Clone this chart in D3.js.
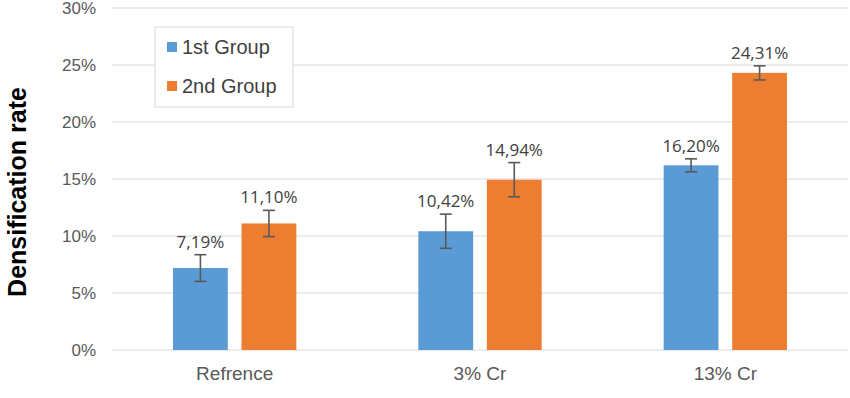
<!DOCTYPE html>
<html>
<head>
<meta charset="utf-8">
<script src="https://d3js.org/d3.v7.min.js"></script>
<style>
  body { margin: 0; background: #fff; }
  svg { display: block; }
</style>
</head>
<body>
<svg id="chart" width="850" height="398"></svg>
<script>
var categories = ['Refrence', '3% Cr', '13% Cr'];
var groups = ['1st Group', '2nd Group'];
var group1 = [7.19, 10.42, 16.20];
var group2 = [11.10, 14.94, 24.31];
var err1 = [1.17, 1.5, 0.57];
var err2 = [1.15, 1.5, 0.62];
var yTicks = [0, 5, 10, 15, 20, 25, 30];
var colors = ['#5B9BD5', '#ED7D31'];

var svg = d3.select('#chart'),
    plotLeft = 112, plotRight = 848, plotTop = 8, plotBottom = 350;

var x0 = d3.scaleBand().domain(categories).range([plotLeft, plotRight]).paddingInner(0).paddingOuter(0);
var x1 = d3.scaleBand().domain(groups).range([61, x0.bandwidth() - 61]).paddingInner(0.2);
var y = d3.scaleLinear().domain([0, 30]).range([plotBottom, plotTop]);
var color = d3.scaleOrdinal().domain(groups).range(colors);

// gridlines
svg.append('g')
  .selectAll('line')
  .data(yTicks)
  .enter().append('line')
  .attr('x1', plotLeft).attr('x2', plotRight)
  .attr('y1', d => y(d)).attr('y2', d => y(d))
  .attr('stroke', '#d9d9d9').attr('stroke-width', 1);

// y axis labels
var yAxis = svg.append('g')
  .attr('transform', 'translate(' + (plotLeft - 16) + ',0)')
  .call(d3.axisLeft(y).tickValues(yTicks).tickSize(0).tickPadding(0).tickFormat(d => d + '%'));
yAxis.select('.domain').remove();
yAxis.selectAll('text')
  .attr('fill', '#595959')
  .attr('font-family', 'Liberation Sans, Arial, sans-serif')
  .attr('font-size', 17);

// x axis labels
var xAxis = svg.append('g')
  .attr('transform', 'translate(0,' + plotBottom + ')')
  .call(d3.axisBottom(x0).tickSize(0).tickPadding(17));
xAxis.select('.domain').remove();
xAxis.selectAll('text')
  .attr('fill', '#595959')
  .attr('font-family', 'Liberation Sans, Arial, sans-serif')
  .attr('font-size', 19);

// y title
svg.append('text')
  .attr('transform', 'translate(26,192) rotate(-90)')
  .attr('text-anchor', 'middle')
  .attr('font-family', 'Liberation Sans, Arial, sans-serif')
  .attr('font-weight', 'bold')
  .attr('font-size', 25)
  .attr('fill', '#000')
  .text('Densification rate');

var rows = categories.map(function(c, i) {
  return {cat: c, vals: [
    {key: groups[0], value: group1[i], err: err1[i]},
    {key: groups[1], value: group2[i], err: err2[i]}
  ]};
});

var gg = svg.selectAll('.bar-box')
  .data(rows)
  .enter().append('g')
  .attr('class', 'bar-box')
  .attr('transform', d => 'translate(' + x0(d.cat) + ',0)');

var bars = gg.selectAll('.bar')
  .data(d => d.vals)
  .enter().append('g')
  .attr('class', 'bar');

bars.append('rect')
  .attr('x', d => x1(d.key))
  .attr('y', d => y(d.value))
  .attr('width', x1.bandwidth())
  .attr('height', d => plotBottom - y(d.value))
  .attr('fill', d => color(d.key));

// error bars
var eb = bars.append('g')
  .attr('stroke', '#595959')
  .attr('stroke-width', 1.6);
eb.append('line')
  .attr('x1', d => x1(d.key) + x1.bandwidth() / 2)
  .attr('x2', d => x1(d.key) + x1.bandwidth() / 2)
  .attr('y1', d => y(d.value + d.err))
  .attr('y2', d => y(d.value - d.err));
eb.append('line')
  .attr('x1', d => x1(d.key) + x1.bandwidth() / 2 - 6)
  .attr('x2', d => x1(d.key) + x1.bandwidth() / 2 + 6)
  .attr('y1', d => y(d.value + d.err))
  .attr('y2', d => y(d.value + d.err));
eb.append('line')
  .attr('x1', d => x1(d.key) + x1.bandwidth() / 2 - 6)
  .attr('x2', d => x1(d.key) + x1.bandwidth() / 2 + 6)
  .attr('y1', d => y(d.value - d.err))
  .attr('y2', d => y(d.value - d.err));

// value labels
bars.append('text')
  .attr('x', d => x1(d.key) + x1.bandwidth() / 2)
  .attr('y', d => y(d.value + d.err) - 7)
  .attr('text-anchor', 'middle')
  .attr('font-family', 'Open Sans, sans-serif')
  .attr('font-size', 17)
  .attr('fill', '#404040')
  .text(d => d.value.toFixed(2).replace('.', ',') + '%');

// legend
var legend = svg.append('g').attr('transform', 'translate(155,27)');
legend.append('rect')
  .attr('width', 138).attr('height', 80)
  .attr('fill', '#fff').attr('stroke', '#d9d9d9');
var li = legend.selectAll('.li')
  .data(groups)
  .enter().append('g')
  .attr('class', 'li')
  .attr('transform', (d, i) => 'translate(12,' + (20 + i * 39) + ')');
li.append('rect')
  .attr('x', 0).attr('y', -5)
  .attr('width', 10).attr('height', 10)
  .attr('fill', d => color(d));
li.append('text')
  .attr('x', 15).attr('dy', '0.35em')
  .attr('font-family', 'Liberation Sans, Arial, sans-serif')
  .attr('font-size', 20)
  .attr('fill', '#404040')
  .text(d => d);
</script>
</body>
</html>
